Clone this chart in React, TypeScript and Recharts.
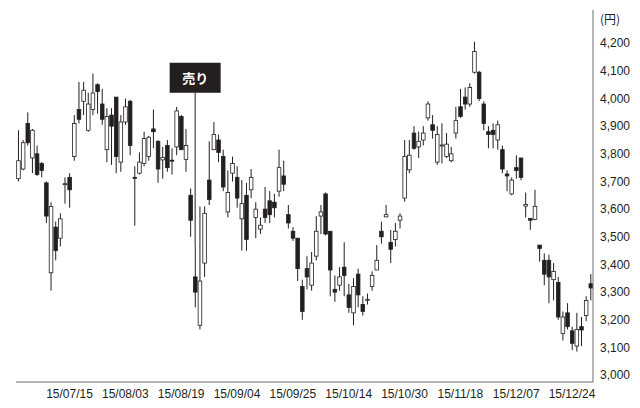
import React from 'react';
import { ComposedChart, Bar, XAxis, YAxis, ReferenceLine, ReferenceDot, Label } from 'recharts';

// trading days, 2015/06/30 - 2015/12/30
const DATES = [
  '15/06/30',
  '15/07/01', '15/07/02', '15/07/03', '15/07/06', '15/07/07', '15/07/08', '15/07/09', '15/07/10', '15/07/13', '15/07/14',
  '15/07/15', '15/07/16', '15/07/17', '15/07/21', '15/07/22', '15/07/23', '15/07/24', '15/07/27', '15/07/28', '15/07/29',
  '15/07/30', '15/07/31',
  '15/08/03', '15/08/04', '15/08/05', '15/08/06', '15/08/07', '15/08/10', '15/08/11', '15/08/12', '15/08/13', '15/08/14',
  '15/08/17', '15/08/18', '15/08/19', '15/08/20', '15/08/21', '15/08/24', '15/08/25', '15/08/26', '15/08/27', '15/08/28',
  '15/08/31',
  '15/09/01', '15/09/02', '15/09/03', '15/09/04', '15/09/07', '15/09/08', '15/09/09', '15/09/10', '15/09/11', '15/09/14',
  '15/09/15', '15/09/16', '15/09/17', '15/09/18', '15/09/24', '15/09/25', '15/09/28', '15/09/29', '15/09/30',
  '15/10/01', '15/10/02', '15/10/05', '15/10/06', '15/10/07', '15/10/08', '15/10/09', '15/10/13', '15/10/14', '15/10/15',
  '15/10/16', '15/10/19', '15/10/20', '15/10/21', '15/10/22', '15/10/23', '15/10/26', '15/10/27', '15/10/28', '15/10/29',
  '15/10/30',
  '15/11/02', '15/11/04', '15/11/05', '15/11/06', '15/11/09', '15/11/10', '15/11/11', '15/11/12', '15/11/13', '15/11/16',
  '15/11/17', '15/11/18', '15/11/19', '15/11/20', '15/11/24', '15/11/25', '15/11/26', '15/11/27', '15/11/30',
  '15/12/01', '15/12/02', '15/12/03', '15/12/04', '15/12/07', '15/12/08', '15/12/09', '15/12/10', '15/12/11', '15/12/14',
  '15/12/15', '15/12/16', '15/12/17', '15/12/18', '15/12/21', '15/12/22', '15/12/24', '15/12/25', '15/12/28', '15/12/29',
  '15/12/30',
];

const OPEN = [
  3710, 3745, 3910, 3785, 3800, 3765, 3695, 3370, 3535, 3495, 3690, 3715, 3790, 3960, 3990, 3885, 3960, 4050, 3980, 3815,
  3940, 4005, 3770, 3915, 3990, 3715, 3730, 3765, 3790, 3890, 3845, 3778, 3830, 3777, 3825, 3935, 3780, 3650, 3355, 3180,
  3405, 3705, 3815, 3850, 3790, 3590, 3730, 3715, 3565, 3650, 3670, 3570, 3528, 3600, 3630, 3625, 3665, 3720, 3580, 3520,
  3495, 3320, 3385, 3325, 3430, 3575, 3655, 3520, 3310, 3325, 3390, 3290, 3225, 3365, 3255, 3272, 3320, 3380, 3520, 3572,
  3480, 3490, 3560, 3640, 3742, 3875, 3825, 3850, 3930, 3905, 3770, 3830, 3790, 3775, 3875, 3970, 4005, 3980, 4095, 4095,
  3980, 3880, 3885, 3850, 3815, 3727, 3655, 3750, 3785, 3611, 3566, 3563, 3470, 3415, 3415, 3345, 3335, 3150, 3225, 3160,
  3105, 3175, 3215, 3330,
];
const HIGH = [
  3885, 3850, 3950, 3890, 3830, 3770, 3700, 3625, 3555, 3585, 3715, 3730, 3940, 4060, 4060, 4020, 4090, 4055, 4035, 3965,
  3965, 4005, 3940, 4000, 3995, 3755, 3805, 3880, 3865, 3960, 3850, 3825, 3850, 3820, 3970, 3940, 3890, 3675, 3465, 3610,
  3610, 3845, 3915, 3870, 3815, 3740, 3790, 3755, 3705, 3695, 3745, 3625, 3570, 3680, 3665, 3655, 3815, 3775, 3615, 3535,
  3495, 3345, 3430, 3445, 3575, 3615, 3660, 3520, 3360, 3390, 3480, 3330, 3350, 3385, 3285, 3295, 3375, 3470, 3555, 3615,
  3525, 3550, 3585, 3850, 3850, 3900, 3880, 3900, 3990, 3940, 3900, 3910, 3875, 3825, 3970, 4035, 4040, 4055, 4205, 4100,
  3990, 3900, 3910, 3920, 3830, 3740, 3715, 3795, 3785, 3660, 3566, 3670, 3470, 3440, 3435, 3405, 3355, 3230, 3260, 3175,
  3225, 3210, 3285, 3365,
];
const LOW = [
  3700, 3740, 3830, 3730, 3720, 3715, 3550, 3305, 3415, 3465, 3620, 3605, 3775, 3910, 3940, 3880, 3940, 3945, 3905, 3770,
  3760, 3730, 3735, 3905, 3795, 3540, 3725, 3755, 3775, 3820, 3695, 3710, 3735, 3725, 3795, 3815, 3735, 3500, 3245, 3165,
  3355, 3615, 3815, 3770, 3665, 3570, 3700, 3605, 3450, 3450, 3640, 3495, 3510, 3550, 3550, 3570, 3645, 3665, 3530, 3485,
  3340, 3200, 3310, 3305, 3415, 3510, 3505, 3285, 3265, 3305, 3285, 3225, 3180, 3245, 3215, 3255, 3305, 3380, 3475, 3572,
  3405, 3465, 3530, 3627, 3730, 3815, 3785, 3830, 3920, 3855, 3760, 3765, 3785, 3770, 3855, 3930, 3960, 3970, 4090, 3990,
  3885, 3820, 3820, 3815, 3730, 3665, 3650, 3710, 3705, 3570, 3525, 3560, 3410, 3325, 3260, 3270, 3200, 3125, 3165, 3090,
  3085, 3105, 3195, 3270,
];
const CLOSE = [
  3775, 3840, 3840, 3885, 3725, 3740, 3575, 3610, 3450, 3565, 3692, 3670, 3910, 3925, 4030, 3980, 4020, 4025, 3925, 3935,
  3900, 3790, 3915, 3970, 3830, 3712, 3770, 3855, 3860, 3880, 3745, 3787, 3750, 3777, 3955, 3815, 3830, 3560, 3300, 3340,
  3585, 3635, 3870, 3805, 3680, 3660, 3765, 3640, 3620, 3490, 3715, 3600, 3542, 3570, 3580, 3605, 3750, 3690, 3550, 3495,
  3385, 3230, 3355, 3405, 3520, 3590, 3510, 3380, 3300, 3355, 3360, 3245, 3320, 3290, 3230, 3274, 3360, 3415, 3500, 3580,
  3455, 3520, 3575, 3790, 3795, 3820, 3845, 3875, 3980, 3885, 3870, 3832, 3835, 3800, 3920, 3935, 3980, 4040, 4170, 4000,
  3910, 3870, 3870, 3905, 3745, 3720, 3705, 3740, 3715, 3617, 3560, 3610, 3458, 3365, 3355, 3375, 3210, 3210, 3175, 3115,
  3165, 3163, 3270, 3315,
];

const X_TICKS = ['15/07/15', '15/08/03', '15/08/19', '15/09/04', '15/09/25', '15/10/14', '15/10/30', '15/11/18', '15/12/07', '15/12/24'];
const Y_TICKS = [3000, 3100, 3200, 3300, 3400, 3500, 3600, 3700, 3800, 3900, 4000, 4100, 4200];

const SELL_DATE = '15/08/24';
const SELL_LABEL = '売り';

const INK = '#231f20';
const AXIS = '#6d6d6d';
const FONT = '"Liberation Sans", Arial, sans-serif';

const data = DATES.map((date, i) => ({
  date,
  open: OPEN[i],
  high: HIGH[i],
  low: LOW[i],
  close: CLOSE[i],
  range: [LOW[i], HIGH[i]],
}));

const Candle = (props: any) => {
  const { x, y, width, height, payload } = props;
  const { open, close, high, low } = payload;
  const cx = x + width / 2;
  const k = height / (high - low);
  const top = y + (high - Math.max(open, close)) * k;
  const bodyH = Math.max(Math.abs(open - close) * k, 1);
  const bw = 3.6;
  const up = close > open;
  return (
    <g>
      <line x1={cx} x2={cx} y1={y} y2={y + height} stroke={INK} strokeWidth={1} />
      <rect x={cx - bw / 2} y={top} width={bw} height={bodyH} fill={up ? '#fff' : INK} stroke={INK} strokeWidth={0.8} />
    </g>
  );
};

const SellTag = (props: any) => {
  const { cx, cy } = props;
  return (
    <g>
      <rect x={cx - 25.5} y={cy - 15} width={51} height={30} fill={INK} />
      <text x={cx} y={cy + 5} textAnchor="middle" fill="#fff" fontSize={13} fontWeight="bold"
        fontFamily='"Noto Sans CJK JP", sans-serif'>{SELL_LABEL}</text>
    </g>
  );
};

export default function App() {
  return (
    <div style={{ position: 'absolute', left: 0, top: 0, width: 640, height: 408, background: '#fff' }}>
      <ComposedChart width={640} height={408} data={data} margin={{ top: 10, right: 0, bottom: 0, left: 16 }}>
        <XAxis
          dataKey="date"
          ticks={X_TICKS}
          interval={0}
          height={26}
          tickLine={false}
          tickSize={0}
          tickMargin={7}
          axisLine={{ stroke: AXIS }}
          tick={{ fill: INK, fontSize: 12, fontFamily: FONT }}
        />
        <YAxis
          orientation="right"
          width={47}
          domain={[2975, 4320]}
          allowDataOverflow
          ticks={Y_TICKS}
          tickLine={false}
          tickSize={0}
          tickMargin={7}
          axisLine={{ stroke: AXIS }}
          tick={{ fill: INK, fontSize: 12, fontFamily: FONT }}
          tickFormatter={(v: number) => v.toLocaleString('en-US')}
        >
          <Label
            content={({ viewBox }: any) => (
              <text x={viewBox.x + 7} y={viewBox.y + 14} fill={INK} fontSize={12}
                fontFamily='"Noto Sans CJK JP", sans-serif'>(円)</text>
            )}
          />
        </YAxis>
        <Bar dataKey="range" shape={<Candle />} isAnimationActive={false} />
        <ReferenceLine
          segment={[{ x: SELL_DATE, y: 4021 }, { x: SELL_DATE, y: 3465 }]}
          stroke={INK}
          strokeWidth={1}
        />
        <ReferenceDot x={SELL_DATE} y={4075} shape={<SellTag />} />
      </ComposedChart>
    </div>
  );
}
